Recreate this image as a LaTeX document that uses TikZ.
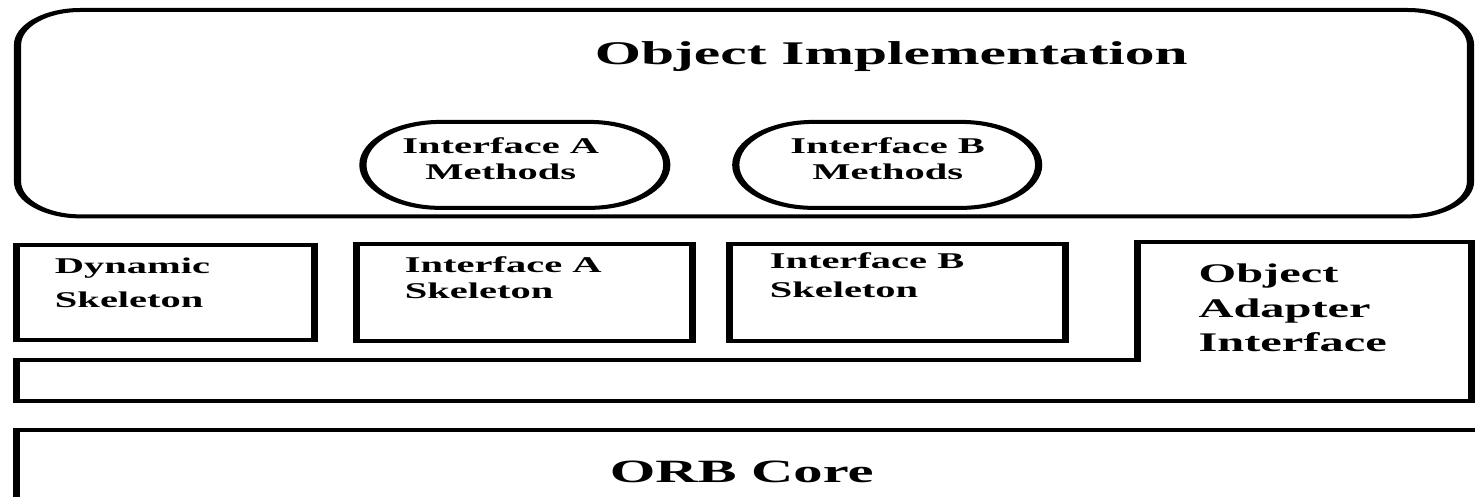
\documentclass[tikz,border=0pt]{standalone}
\usepackage{fontspec}
\setmainfont{Liberation Serif}
\tikzset{
  ln/.style={line width=0.04cm, line join=miter},
  lbl/.style={inner sep=0pt, outer sep=0pt, anchor=north west, align=left},
  ctr/.style={inner sep=0pt, outer sep=0pt, anchor=north, align=center},
  big/.style={inner sep=0pt, outer sep=0pt, anchor=base west, font=\bfseries\fontsize{9.4pt}{11pt}\selectfont},
}
\begin{document}
\begin{tikzpicture}
\fill[white] (0,0) rectangle (14.75,-4.97);
\useasboundingbox (0,0) rectangle (14.75,-4.97);
\begin{scope}[x=0.0055556cm, y=-0.01cm, transform canvas={xscale=1.8}]
  % Object implementation
  \draw[ln, rounded corners=0.35cm] (17.5,10) rectangle (1471,216.5);
  \node[big] (impl) at (595,65) {Object Implementation};
  \draw[ln, rounded corners=0.43cm] (363,122) rectangle (667,208);
  \draw[ln, rounded corners=0.43cm] (736,122) rectangle (1039,208);
  \node[ctr, font=\bfseries\fontsize{6.4pt}{7.3pt}\selectfont] (ma) at (501,137.6) {Interface A\\Methods};
  \node[ctr, font=\bfseries\fontsize{6.4pt}{7.3pt}\selectfont] (mb) at (888,137.6) {Interface B\\Methods};
  % skeletons
  \draw[ln] (16.5,245) rectangle (314.5,340);
  \draw[ln] (357,244) rectangle (693,341.5);
  \draw[ln] (730,244) rectangle (1065.5,341.5);
  \node[lbl, font=\bfseries\fontsize{6.4pt}{9.67pt}\selectfont] (dyn) at (55,257.6) {Dynamic\\Skeleton};
  \node[lbl, font=\bfseries\fontsize{6.4pt}{7.4pt}\selectfont] (ska) at (405,256.6) {Interface A\\Skeleton};
  \node[lbl, font=\bfseries\fontsize{6.4pt}{8.25pt}\selectfont] (skb) at (770,252.6) {Interface B\\Skeleton};
  % object adapter
  \draw[ln] (16.5,360.5) -- (1138,360.5) -- (1138,242.5) -- (1472,242.5) -- (1472,401.5) -- (16.5,401.5) -- cycle;
  \node[lbl, font=\bfseries\fontsize{7.65pt}{9.8pt}\selectfont] (oa) at (1199,264.5) {Object\\Adapter\\Interface};
  % ORB core
  \draw[ln] (1495,430.5) -- (16.5,430.5) -- (16.5,515);
  \node[big, font=\bfseries\fontsize{9.25pt}{11pt}\selectfont] (orb) at (610,483) {ORB Core};
\end{scope}
\end{tikzpicture}
\end{document}
